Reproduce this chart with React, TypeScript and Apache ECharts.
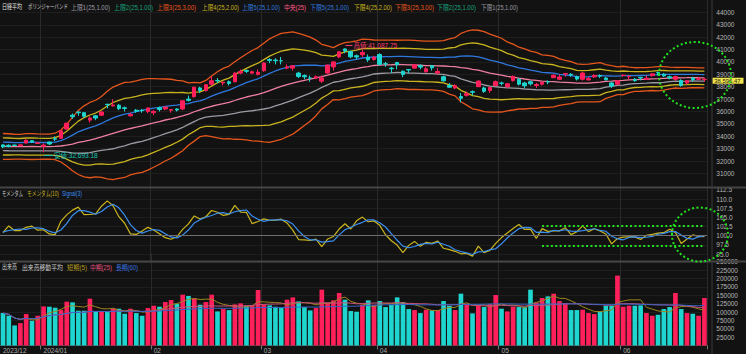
import React, { useEffect, useRef } from "react";
import * as echarts from "echarts";

// ---------- data ----------
const monthKeys = ["2023/12", "2024/01", "2024/02", "2024/03", "2024/04", "2024/05", "2024/06"];
const monthTickLabels = ["2023/12", "2024/01", "02", "03", "04", "05", "06"];
const tradingDays = [
  [21, 22, 25, 26, 27, 28, 29],
  [4, 5, 9, 10, 11, 12, 15, 16, 17, 18, 19, 22, 23, 24, 25, 26, 29, 30, 31],
  [1, 2, 5, 6, 7, 8, 9, 13, 14, 15, 16, 19, 20, 21, 22, 26, 27, 28, 29],
  [1, 4, 5, 6, 7, 8, 11, 12, 13, 14, 15, 18, 19, 21, 22, 25, 26, 27, 28, 29],
  [1, 2, 3, 4, 5, 8, 9, 10, 11, 12, 15, 16, 17, 18, 19, 22, 23, 24, 25, 26, 30],
  [1, 2, 7, 8, 9, 10, 13, 14, 15, 16, 17, 20, 21, 22, 23, 24, 27, 28, 29, 30, 31],
  [3, 4, 5, 6, 7, 10, 11, 12, 13, 14, 17, 18, 19, 20, 21],
];

// closes of the 24 sessions before the first visible one (Bollinger / momentum look-back)
const prevCloses = [
  33424, 33585, 33388, 33354, 33451, 33625, 33447, 33408, 33321, 33486, 33431, 33231,
  32775, 33445, 32858, 32307, 32791, 32843, 32926, 32686, 32970, 32758, 33219, 33675,
];

const opens = [
  33300, 33270, 33290, 33240, 33450, 33640, 33420,
  33193, 33530, 33800, 33840, 34580, 35700, 35950, 35900, 35300, 35650, 35700, 36580, 36450, 36500, 36300, 35650, 36100, 36100, 36000,
  35900, 36300, 36200, 36100, 36200, 36200, 37000, 37200, 37900, 37700, 38200, 38500, 38300, 38400, 38400, 39100, 39300, 39100, 39000,
  39300, 40200, 40150, 40100, 39500, 39500, 39100, 38900, 38700, 38700, 38450, 39100, 39600, 40400, 41050, 40850, 40500, 40580, 40380, 40200,
  40600, 39850, 39500, 39950, 39250, 39380, 39500, 39700, 39200, 39700, 39100, 38800, 38100, 37900, 37200, 37300, 37600, 38000, 37900, 37700, 38100,
  38300, 38000, 38500, 38600, 38300, 38400, 38100, 38200, 38400, 38730, 38600, 39020, 39000, 38800, 38600, 38550, 38800, 38900, 38700, 38300, 38200,
  38900, 38800, 38600, 38750, 38600, 38900, 39150, 39000, 38800, 38600, 38500, 38300, 38700, 38600, 38580,
];
const highs = [
  33350, 33350, 33310, 33330, 33755, 33690, 33540,
  33413, 33568, 33990, 34477, 35087, 35839, 36008, 35950, 35600, 35700, 36000, 36620, 36984, 36600, 36400, 35900, 36200, 36200, 36300,
  36100, 36400, 36400, 36200, 36250, 36900, 37287, 38000, 38000, 38200, 38865, 38700, 38400, 38500, 39156, 39388, 39400, 39300, 39400,
  39990, 40300, 40300, 40400, 39800, 39700, 39200, 39000, 38900, 38900, 38900, 39800, 40050, 40850, 41087.75, 40900, 40600, 40979, 40600, 40500,
  40700, 40000, 39600, 40000, 39300, 39400, 39800, 39800, 39600, 39750, 39500, 38900, 38300, 38200, 37500, 37600, 37700, 38500, 38000, 38000, 38500,
  38400, 38300, 38900, 38700, 38400, 38500, 38300, 38400, 38500, 39000, 39000, 39100, 39100, 38900, 39200, 38800, 39000, 39000, 38800, 38400, 38500,
  39000, 38900, 38700, 38800, 38900, 39100, 39200, 39100, 38900, 38900, 38600, 38500, 38800, 38800, 38700,
];
const lows = [
  33030, 33110, 33190, 33200, 33430, 33460, 33390,
  32693.18, 33290, 33600, 33800, 34540, 35400, 35650, 35500, 35100, 35300, 35650, 36250, 36400, 36100, 36000, 35600, 35900, 35900, 35850,
  35700, 36000, 36100, 35900, 36000, 36100, 36800, 37100, 37500, 37600, 38100, 38300, 38100, 38100, 38350, 39000, 39100, 39000, 38900,
  39200, 39900, 39800, 39800, 39400, 39300, 38700, 38600, 38400, 38600, 38300, 39050, 39300, 40300, 40700, 40300, 40200, 40400, 40000, 40100,
  39700, 39600, 39100, 39400, 38774, 39100, 39450, 39400, 39150, 39300, 39000, 38400, 37900, 37800, 36733, 37200, 37300, 38000, 37500, 37500, 38000,
  38100, 37900, 38400, 38100, 37900, 38100, 37900, 38100, 38200, 38700, 38550, 38800, 38800, 38500, 38500, 38500, 38700, 38700, 38500, 37900, 38100,
  38800, 38600, 38400, 38500, 38550, 38800, 38900, 38800, 38600, 38500, 38000, 38200, 38400, 38500, 38400,
];
const closes = [
  33140.47, 33169.05, 33254.76, 33305.85, 33681.24, 33539.62, 33464.17,
  33288.29, 33377.42, 33763.18, 34441.72, 35049.86, 35577.11, 35901.79, 35619.18, 35477.75, 35466.17, 35963.27, 36546.95, 36517.57, 36226.48, 36236.47, 35751.07, 36026.94, 36065.86, 36286.71,
  36011.46, 36158.02, 36354.16, 36160.66, 36119.92, 36863.28, 36897.42, 37963.97, 37703.32, 38157.94, 38487.24, 38470.38, 38363.61, 38262.16, 39098.68, 39233.71, 39239.52, 39208.03, 39166.19,
  39910.82, 40109.23, 40097.63, 40090.78, 39598.71, 39688.94, 38820.49, 38797.51, 38695.97, 38807.38, 38707.64, 39740.44, 40003.6, 40815.66, 40888.43, 40414.12, 40398.03, 40762.73, 40168.07, 40369.44,
  39803.09, 39838.91, 39451.85, 39773.14, 38992.08, 39347.04, 39773.13, 39581.81, 39442.63, 39523.55, 39232.8, 38471.2, 37961.8, 38079.7, 37068.35, 37438.61, 37552.16, 38460.08, 37628.48, 37934.76, 38405.66,
  38274.05, 38236.07, 38835.1, 38202.37, 38073.98, 38229.11, 38179.46, 38356.06, 38385.73, 38920.26, 38787.38, 39069.68, 38946.93, 38617.1, 39103.22, 38646.11, 38900.02, 38855.37, 38556.87, 38054.13, 38487.9,
  38923.03, 38837.46, 38490.17, 38703.51, 38683.93, 39038.16, 39134.79, 38876.71, 38720.47, 38814.56, 38102.44, 38482.11, 38570.76, 38633.02, 38596.47,
];
const volumes = [
  97000, 89000, 60000, 67000, 94000, 74000, 89000, 117000, 116000, 113000, 106000, 131000, 129000, 104000, 104000, 140000, 102000, 102000, 100000, 112000,
  110000, 95000, 110000, 97000, 89000, 112000, 119000, 116000, 130000, 136000, 125000, 152000, 148000, 141000, 122000, 130000, 152000, 102000, 109000, 106000,
  123000, 126000, 119000, 120000, 166000, 122000, 120000, 116000, 112000, 137000, 144000, 132000,
  115000, 105000, 112000, 167000, 129000, 135000, 157000, 137000, 103000, 101000, 122000, 135000, 122000, 133000, 115000, 122000, 144000, 129000, 109000, 106000,
  97000, 107000, 105000, 106000, 133000, 119000, 106000, 155000, 125000, 96000, 119000, 115000, 124000, 151000, 110000, 102000, 116000, 115000, 116000, 167000,
  129000, 142000, 147000, 155000, 133000, 127000, 106000, 106000, 107000, 97000, 94000, 102000, 119000, 119000, 209000, 116000, 119000, 119000, 120000, 97000,
  89000, 92000, 109000, 115000, 157000, 109000, 97000, 95000, 89000, 142000,
];

// ---------- derived ----------
const dates: string[] = [];
const monthStartLabel: Record<number, string> = {};
tradingDays.forEach((days, m) =>
  days.forEach((d, k) => {
    if (k === 0) monthStartLabel[dates.length] = monthTickLabels[m];
    dates.push(`${monthKeys[m]}/${String(d).padStart(2, "0")}`);
  })
);
const isMonthStart = (i: number) => monthStartLabel[i] !== undefined;
const isInnerMonthStart = (i: number) => i !== 0 && isMonthStart(i);

const allCloses = prevCloses.concat(closes);
const off = prevCloses.length;
const bbMid: number[] = [];
const bbSd: number[] = [];
closes.forEach((_, i) => {
  const w = allCloses.slice(i + off - 24, i + off + 1);
  const m = w.reduce((a, b) => a + b, 0) / w.length;
  const sd = Math.sqrt(w.reduce((a, b) => a + (b - m) * (b - m), 0) / w.length);
  bbMid.push(m);
  bbSd.push(sd);
});
const band = (k: number) => bbMid.map((m, i) => +(m + k * bbSd[i]).toFixed(2));
const momAt = (j: number) => (allCloses[j] / allCloses[j - 10]) * 100;
const momentum = closes.map((_, i) => +momAt(i + off).toFixed(2));
const signal = closes.map((_, i) => +((momAt(i + off) + momAt(i + off - 1) + momAt(i + off - 2)) / 3).toFixed(2));
const volMA = (n: number) =>
  volumes.map((_, i) => {
    const w = volumes.slice(Math.max(0, i - n + 1), i + 1);
    return Math.round(w.reduce((a, b) => a + b, 0) / w.length);
  });

const UP = "#ff1f5a";
const DOWN = "#1ed6cf";
const ORANGE = "#e5561c";
const YELLOW = "#c9b41f";
const BLUE = "#2f78de";
const PINK = "#ee7fa0";
const GREY = "#9a9aa2";
const TEAL = "#16a37c";
const GREEN = "#22e21e";
const BG = "#121212";
const FONT = "'Liberation Sans','Noto Sans CJK JP',sans-serif";
const FS = 6.5;

const fmt = (v: number) => v.toLocaleString("en-US", { minimumFractionDigits: 2, maximumFractionDigits: 2 });
const hiIdx = highs.indexOf(Math.max(...highs));
const loIdx = lows.indexOf(Math.min(...lows));
const lastClose = closes[closes.length - 1];

// ---------- layout ----------
const GRID_LEFT = -0.3;
const GRID_W = 707.6;
type LegendItem = { t: string; c: string; x: number; x2: number };
const mainLegend: LegendItem[] = [
  { t: "日経平均", c: "#e2e2e2", x: 2, x2: 22 },
  { t: "ボリンジャーバンド", c: "#cfcfcf", x: 28, x2: 68 },
  { t: "上限1(25,1.00)", c: GREY, x: 71, x2: 110 },
  { t: "上限2(25,1.00)", c: TEAL, x: 114, x2: 153 },
  { t: "上限3(25,3.00)", c: ORANGE, x: 157, x2: 196 },
  { t: "上限4(25,2.00)", c: YELLOW, x: 202, x2: 239 },
  { t: "上限5(25,1.00)", c: BLUE, x: 242, x2: 280 },
  { t: "中央(25)", c: "#ff5a8a", x: 284, x2: 306 },
  { t: "下限5(25,1.00)", c: BLUE, x: 310, x2: 349 },
  { t: "下限4(25,2.00)", c: YELLOW, x: 354, x2: 392 },
  { t: "下限3(25,3.00)", c: ORANGE, x: 395, x2: 434 },
  { t: "下限2(25,1.00)", c: TEAL, x: 437, x2: 476 },
  { t: "下限1(25,1.00)", c: GREY, x: 481, x2: 518 },
];
const momLegend: LegendItem[] = [
  { t: "モメンタム", c: "#cfcfcf", x: 2, x2: 23 },
  { t: "モメンタム(10)", c: YELLOW, x: 27, x2: 59 },
  { t: "Signal(3)", c: "#3b8ff0", x: 62, x2: 82 },
];
const volLegend: LegendItem[] = [
  { t: "出来高", c: "#cfcfcf", x: 2, x2: 17 },
  { t: "出来高移動平均", c: "#cfcfcf", x: 22, x2: 63 },
  { t: "短期(5)", c: "#b39a1e", x: 67, x2: 87 },
  { t: "中期(25)", c: "#e0507e", x: 90, x2: 112 },
  { t: "長期(60)", c: "#3a74e0", x: 116, x2: 138 },
];

function measure(t: string, size: number): number {
  const ctx = document.createElement("canvas").getContext("2d");
  if (!ctx) return t.length * size * 0.6;
  ctx.font = `${size}px ${FONT}`;
  return ctx.measureText(t).width || t.length * size * 0.6;
}

const legendTexts = (items: LegendItem[], y: number) =>
  items.map((it) => ({
    type: "text",
    x: it.x,
    y,
    z: 50,
    scaleX: Math.min(1.2, (it.x2 - it.x) / measure(it.t, FS)),
    style: { text: it.t, fill: it.c, fontSize: FS, fontFamily: FONT, verticalAlign: "middle" },
  }));

const gridLine = "#1e1e1e";
const hideEnds = (n: number, hide: number[]) =>
  Array.from({ length: n }, (_, i) => (hide.includes(i) ? "rgba(0,0,0,0)" : gridLine));

const xAxisBase = (gridIndex: number, showLabels: boolean) => ({
  type: "category",
  gridIndex,
  data: dates,
  boundaryGap: true,
  axisLine: { show: showLabels, lineStyle: { color: "#444" } },
  axisTick: {
    show: showLabels,
    interval: (i: number) => isInnerMonthStart(i),
    length: 4,
    lineStyle: { color: "#777" },
  },
  axisLabel: {
    show: showLabels,
    interval: (i: number) => isMonthStart(i),
    formatter: (_v: string, i: number) => monthStartLabel[i] ?? "",
    align: "left",
    margin: 2,
    color: "#aaa",
    fontSize: FS,
    fontFamily: FONT,
  },
  splitLine: {
    show: true,
    interval: (i: number) => isInnerMonthStart(i),
    lineStyle: { color: "#2a2a2a", width: 1 },
  },
});

const yLabel = { color: "#b5b5b5", fontSize: FS, fontFamily: FONT, margin: 9, lineHeight: 5.5 };

const lineSeries = (name: string, data: number[], color: string, xi: number, width = 1.3) => ({
  name,
  type: "line",
  xAxisIndex: xi,
  yAxisIndex: xi,
  data,
  symbol: "none",
  showSymbol: false,
  silent: true,
  lineStyle: { color, width },
});

function buildOption(): any {
  return {
    animation: false,
    backgroundColor: BG,
    tooltip: { show: false },
    grid: [
      { left: GRID_LEFT, width: GRID_W, top: -7.56, height: 205.74 },
      { left: GRID_LEFT, width: GRID_W, top: 180.7, height: 82.5 },
      { left: GRID_LEFT, width: GRID_W, top: 253.56, height: 92.84 },
    ],
    xAxis: [xAxisBase(0, false), xAxisBase(1, false), xAxisBase(2, true)],
    yAxis: [
      {
        type: "value",
        gridIndex: 0,
        position: "right",
        min: 29000,
        max: 45000,
        interval: 1000,
        axisLine: { show: false },
        axisTick: { show: false },
        axisLabel: { ...yLabel, formatter: (v: number) => (v >= 31000 && v <= 44000 ? String(v) : "") },
        splitLine: { show: true, lineStyle: { color: hideEnds(17, [0, 1, 16]), width: 1 } },
      },
      {
        type: "value",
        gridIndex: 1,
        position: "right",
        min: 92.5,
        max: 115,
        interval: 2.5,
        axisLine: { show: false },
        axisTick: { show: false },
        axisLabel: { ...yLabel, formatter: (v: number) => (v >= 95 && v <= 112.5 ? v.toFixed(1) : "") },
        splitLine: { show: true, lineStyle: { color: hideEnds(10, [0, 9]), width: 1 } },
      },
      {
        type: "value",
        gridIndex: 2,
        position: "right",
        min: 0,
        max: 275000,
        interval: 25000,
        axisLine: { show: false },
        axisTick: { show: false },
        axisLabel: { ...yLabel, formatter: (v: number) => (v >= 25000 && v <= 250000 ? String(v) : "") },
        splitLine: { show: true, lineStyle: { color: hideEnds(12, [0, 11]), width: 1 } },
      },
    ],
    series: [
      lineSeries("上限3", band(3), ORANGE, 0),
      lineSeries("下限3", band(-3), ORANGE, 0),
      lineSeries("上限4", band(2), YELLOW, 0),
      lineSeries("下限4", band(-2), YELLOW, 0),
      lineSeries("下限1", band(-1), GREY, 0),
      lineSeries("上限5", band(1), BLUE, 0),
      lineSeries("中央", bbMid.map((v) => +v.toFixed(2)), PINK, 0),
      {
        name: "日経平均",
        type: "candlestick",
        xAxisIndex: 0,
        yAxisIndex: 0,
        barWidth: "70%",
        z: 5,
        data: closes.map((c, i) => [opens[i], c, lows[i], highs[i]]),
        itemStyle: { color: UP, color0: DOWN, borderColor: UP, borderColor0: DOWN, borderWidth: 1 },
        markPoint: {
          silent: true,
          data: [
            {
              coord: [dates[hiIdx], highs[hiIdx]],
              symbol: "rect",
              symbolSize: [7, 1],
              symbolOffset: [4, -3],
              itemStyle: { color: "#ff3d6e" },
              label: {
                show: true,
                position: "right",
                distance: 1,
                formatter: `高値:${fmt(highs[hiIdx])}`,
                color: "#ff3d6e",
                fontSize: FS,
                fontFamily: FONT,
              },
            },
            {
              coord: [dates[loIdx], lows[loIdx]],
              symbol: "rect",
              symbolSize: [9, 1],
              symbolOffset: [5, 3],
              itemStyle: { color: "#1fc8b8" },
              label: {
                show: true,
                position: "right",
                distance: 1,
                formatter: `安値:${fmt(lows[loIdx])}`,
                color: "#1fc8b8",
                fontSize: FS,
                fontFamily: FONT,
              },
            },
          ],
        },
        markLine: {
          silent: true,
          z: 20,
          symbol: ["none", "none"],
          lineStyle: { color: "rgba(0,0,0,0)" },
          data: [
            {
              yAxis: lastClose,
              label: {
                show: true,
                position: "end",
                distance: 5,
                offset: [0, 1.4],
                formatter: fmt(lastClose),
                backgroundColor: "#f3e64b",
                color: "#1a1a1a",
                padding: [0.5, 3, 0.5, 2],
                lineHeight: 5,
                fontSize: 5.9,
                fontFamily: FONT,
              },
            },
          ],
        },
      },
      {
        ...lineSeries("モメンタム(10)", momentum, YELLOW, 1, 1.2),
        markLine: {
          silent: true,
          symbol: ["none", "none"],
          label: { show: false },
          data: [
            { yAxis: 100, lineStyle: { color: "#6e6e6e", type: "solid", width: 1 } },
            [
              { coord: [dates[93], 102.7], lineStyle: { color: GREEN, type: [2, 2.4], width: 2 } },
              { coord: [dates[dates.length - 1], 102.7] },
            ],
            [
              { coord: [dates[93], 97.3], lineStyle: { color: GREEN, type: [2, 2.4], width: 2 } },
              { coord: [dates[dates.length - 1], 97.3] },
            ],
          ],
        },
      },
      lineSeries("Signal(3)", signal, "#3b8ff0", 1, 1.2),
      {
        name: "出来高",
        type: "bar",
        xAxisIndex: 2,
        yAxisIndex: 2,
        barWidth: "80%",
        data: volumes.map((v, i) => ({ value: v, itemStyle: { color: closes[i] >= opens[i] ? UP : DOWN } })),
      },
      lineSeries("短期(5)", volMA(5), "#9c8620", 2, 1),
      lineSeries("中期(25)", volMA(25), "#c8507a", 2, 1),
      lineSeries("長期(60)", volMA(60), "#3564c8", 2, 1),
    ],
    graphic: [
      ...legendTexts(mainLegend, 7),
      ...legendTexts(momLegend, 194),
      ...legendTexts(volLegend, 267),
      { type: "line", z: 60, shape: { x1: 0, y1: 187.5, x2: 746, y2: 187.5 }, style: { stroke: "#454545", lineWidth: 2 } },
      { type: "line", z: 60, shape: { x1: 0, y1: 261.5, x2: 746, y2: 261.5 }, style: { stroke: "#454545", lineWidth: 2 } },
      { type: "line", z: 60, shape: { x1: 712, y1: 0, x2: 712, y2: 354 }, style: { stroke: "#3a3a3a", lineWidth: 1 } },
      {
        type: "ellipse",
        z: 100,
        shape: { cx: 695, cy: 75, rx: 36, ry: 33 },
        style: { fill: "none", stroke: GREEN, lineWidth: 2, lineDash: [2, 2.4] },
      },
      {
        type: "ellipse",
        z: 100,
        shape: { cx: 700, cy: 234.5, rx: 28, ry: 27 },
        style: { fill: "none", stroke: GREEN, lineWidth: 2, lineDash: [2, 2.4] },
      },
    ],
  };
}

export default function App() {
  const ref = useRef<HTMLDivElement>(null);
  useEffect(() => {
    document.body.style.margin = "0";
    document.body.style.background = BG;
    const chart = echarts.init(ref.current!, null, { renderer: "svg" });
    chart.setOption(buildOption());
    return () => chart.dispose();
  }, []);
  return <div ref={ref} style={{ position: "fixed", left: 0, top: 0, width: 746, height: 354 }} />;
}
